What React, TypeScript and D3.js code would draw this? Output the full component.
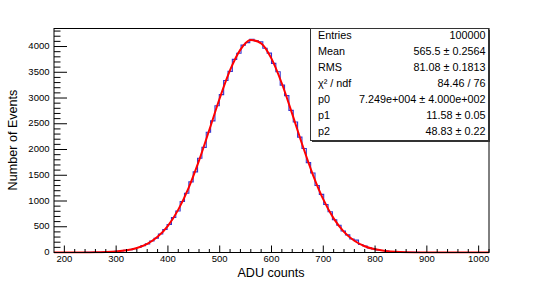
import React from "react";
import * as d3 from "d3";

// Histogram: 100 bins from 180 to 1020 (ADU counts)
const histMin = 180;
const histMax = 1020;
const binCounts = [
  0, 0, 0, 0, 0, 1, 1, 2, 2, 4,
  5, 8, 10, 15, 22, 28, 41, 53, 75, 96,
  133, 167, 224, 276, 359, 447, 543, 681, 806, 989,
  1150, 1372, 1566, 1831, 2041, 2336, 2556, 2851, 3065, 3340,
  3518, 3750, 3868, 4028, 4075, 4141, 4110, 4092, 3966, 3871,
  3672, 3510, 3250, 3046, 2760, 2535, 2240, 2020, 1745, 1545,
  1302, 1128, 931, 790, 637, 530, 418, 342, 262, 240,
  155, 125, 90, 71, 49, 38, 26, 20, 13, 10,
  6, 5, 3, 2, 1, 1, 1, 0, 0, 0,
  0, 0, 0, 0, 0, 0, 0, 0, 0, 0,
];

// Fit curve samples (red)
const fitX = [180, 200, 220, 240, 260, 280, 300, 320, 340, 360, 380, 400, 420, 440, 460, 480, 500, 520, 540, 560, 580, 600, 620, 640, 660, 680, 700, 720, 740, 760, 780, 800, 820, 840, 860, 880, 900, 920, 940, 960, 980, 1000, 1020];
const fitY = [0, 0.15, 0.5, 1.3, 3.4, 8.5, 19.6, 42.6, 87.2, 168, 304.4, 519, 832.5, 1256.4, 1783.8, 2383.2, 2995.2, 3541.9, 3940.8, 4125.1, 4062.7, 3764.8, 3282, 2692.2, 2077.7, 1508.5, 1030.8, 662.5, 400.7, 227.9, 122, 61.4, 29.1, 13, 5.4, 2.1, 0.8, 0.3, 0.1, 0, 0, 0, 0];

const xTicks = [200, 300, 400, 500, 600, 700, 800, 900, 1000];
const yTicks = [0, 500, 1000, 1500, 2000, 2500, 3000, 3500, 4000];

const statLabels = ["Entries", "Mean", "RMS", "χ² / ndf", "p0", "p1", "p2"];
const statValues = [
  "100000",
  "565.5 ± 0.2564",
  "81.08 ± 0.1813",
  "84.46 / 76",
  "7.249e+004 ± 4.000e+002",
  "11.58 ± 0.05",
  "48.83 ± 0.22",
];

const W = 545;
const H = 281;
const left = 54;
const right = 489;
const top = 28.5;
const bottom = 252.5;
const yMax = 4350;
const font = "'Liberation Sans', Arial, Helvetica, sans-serif";

export default function App() {
  const x = d3.scaleLinear().domain([histMin, histMax]).range([left, right]);
  const y = d3.scaleLinear().domain([0, yMax]).range([bottom, top]);
  const bw = (histMax - histMin) / binCounts.length;

  const pts: [number, number][] = [];
  binCounts.forEach((c, i) => {
    const x0 = histMin + i * bw;
    pts.push([x(x0), y(c)]);
    pts.push([x(x0 + bw), y(c)]);
  });
  const histPath = d3.line()(pts) || "";

  const fitLine = d3
    .line<number>()
    .x((_, i) => x(fitX[i]))
    .y((v) => y(v))
    .curve(d3.curveMonotoneX);
  const fitPath = fitLine(fitY) || "";

  const xMinor = d3.range(200, histMax + 0.1, 20).filter((v) => v % 100 !== 0);
  const yMinor = d3.range(100, yMax, 100).filter((v) => v % 500 !== 0);

  const boxL = 310.5;
  const boxT = 28.5;
  const boxR = 488.5;
  const boxB = 140.5;
  const rowH = (boxB - boxT) / statLabels.length;

  return (
    <svg
      width={W}
      height={H}
      style={{ position: "absolute", left: 0, top: 0, background: "#fff" }}
      fontFamily={font}
    >
      <rect x={0} y={0} width={W} height={H} fill="#fff" />
      <defs>
        <clipPath id="plot">
          <rect x={left} y={top} width={right - left} height={bottom - top + 1} />
        </clipPath>
      </defs>
      <g clipPath="url(#plot)">
        <path d={histPath} fill="none" stroke="#3535d0" strokeWidth={1.1} />
        <path d={fitPath} fill="none" stroke="#ff0000" strokeWidth={2} />
      </g>
      {/* frame */}
      <rect x={left} y={top} width={right - left} height={bottom - top} fill="none" stroke="#000" strokeWidth={1} />
      {/* x ticks */}
      {xTicks.map((t) => (
        <g key={"xt" + t}>
          <line x1={x(t)} x2={x(t)} y1={bottom} y2={bottom - 7} stroke="#000" />
          <text x={x(t)} y={259} fontSize={9.5} textAnchor="middle" dominantBaseline="middle">
            {t}
          </text>
        </g>
      ))}
      {xMinor.map((t) => (
        <line key={"xm" + t} x1={x(t)} x2={x(t)} y1={bottom} y2={bottom - 3.5} stroke="#000" />
      ))}
      {/* y ticks */}
      {yTicks.map((t) => (
        <g key={"yt" + t}>
          <line x1={left} x2={left + 13} y1={y(t)} y2={y(t)} stroke="#000" />
          <text x={49.5} y={y(t)} fontSize={9.5} textAnchor="end" dominantBaseline="middle">
            {t}
          </text>
        </g>
      ))}
      {yMinor.map((t) => (
        <line key={"ym" + t} x1={left} x2={left + 6.5} y1={y(t)} y2={y(t)} stroke="#000" />
      ))}
      {/* axis titles */}
      <text x={271} y={273.5} fontSize={12.6} textAnchor="middle" dominantBaseline="middle">
        ADU counts
      </text>
      <text
        transform={`translate(14,140) rotate(-90)`}
        fontSize={12.6}
        textAnchor="middle"
        dominantBaseline="middle"
      >
        Number of Events
      </text>
      {/* stats box */}
      <rect x={boxL + 1.5} y={boxT + 1.5} width={boxR - boxL} height={boxB - boxT} fill="#333" />
      <rect x={boxL} y={boxT} width={boxR - boxL} height={boxB - boxT} fill="#fff" stroke="#333" strokeWidth={1} />
      {statLabels.map((l, i) => (
        <g key={"st" + i}>
          <text x={318} y={boxT + rowH * (i + 0.5)} fontSize={10.8} dominantBaseline="middle">
            {l}
          </text>
          <text x={485.5} y={boxT + rowH * (i + 0.5)} fontSize={10.8} textAnchor="end" dominantBaseline="middle">
            {statValues[i]}
          </text>
        </g>
      ))}
    </svg>
  );
}
